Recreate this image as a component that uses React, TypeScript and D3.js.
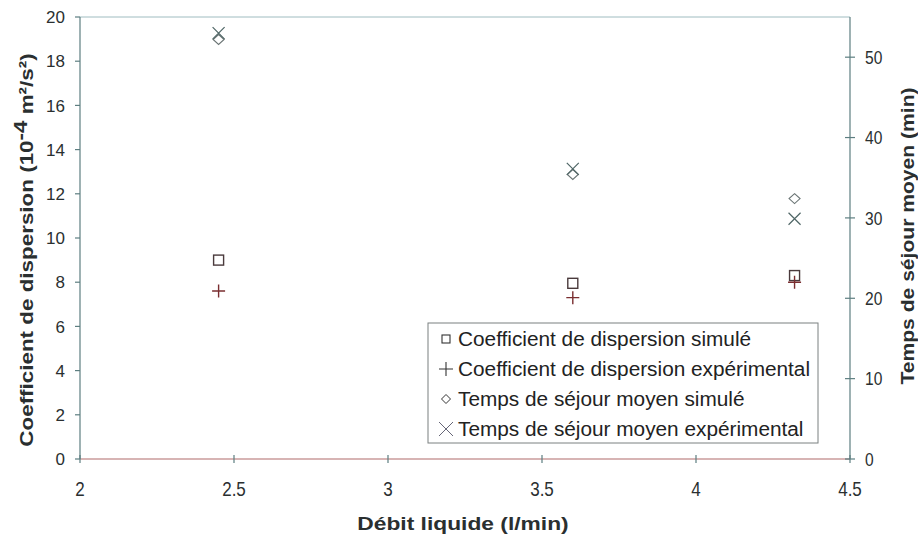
import React from "react";
import * as d3 from "d3";

const debit = [2.45, 3.6, 4.32];
const coefSimule = [9.0, 7.95, 8.3];
const coefExp = [7.6, 7.3, 8.0];
const tempsSimule = [52.2, 35.4, 32.4];
const tempsExp = [53.0, 36.1, 29.9];
const xTicks = [2, 2.5, 3, 3.5, 4, 4.5];
const yLeftTicks = [0, 2, 4, 6, 8, 10, 12, 14, 16, 18, 20];
const yRightTicks = [0, 10, 20, 30, 40, 50];
const legendLabels = [
  "Coefficient de dispersion simulé",
  "Coefficient de dispersion expérimental",
  "Temps de séjour moyen simulé",
  "Temps de séjour moyen expérimental",
];

const W = 918, H = 540;
const L = 80, R = 850, T = 17, B = 459;
const AX = "#5d7e80";
const TXT = "#2a2f30";
const FONT = "Arial, 'Liberation Sans', sans-serif";

function Marker({ type, x, y }: { type: string; x: number; y: number }) {
  if (type === "square")
    return <rect x={x - 5} y={y - 5} width={10} height={10} fill="none" stroke="#4a3a3c" strokeWidth={1.4} />;
  if (type === "plus")
    return (
      <path d={`M${x - 6.5},${y}H${x + 6.5}M${x},${y - 6.5}V${y + 6.5}`} stroke="#7a2e30" strokeWidth={1.4} fill="none" />
    );
  if (type === "diamond")
    return (
      <path d={`M${x},${y - 5}L${x + 5.5},${y}L${x},${y + 5}L${x - 5.5},${y}Z`} stroke="#6a7474" strokeWidth={1.1} fill="none" />
    );
  return (
    <path d={`M${x - 6},${y - 6}L${x + 6},${y + 6}M${x - 6},${y + 6}L${x + 6},${y - 6}`} stroke="#4f6666" strokeWidth={1.2} fill="none" />
  );
}

export default function App() {
  const x = d3.scaleLinear().domain([2, 4.5]).range([L, R]);
  const yL = d3.scaleLinear().domain([0, 20]).range([B, T]);
  const yR = d3.scaleLinear().domain([0, 55]).range([B, T]);

  const series = [
    { type: "square", vals: coefSimule, scale: yL },
    { type: "plus", vals: coefExp, scale: yL },
    { type: "diamond", vals: tempsSimule, scale: yR },
    { type: "cross", vals: tempsExp, scale: yR },
  ];

  return (
    <svg width={W} height={H} style={{ position: "absolute", left: 0, top: 0, background: "#fff" }} fontFamily={FONT}>
      <rect x={0} y={0} width={W} height={H} fill="#fff" />
      {/* frame */}
      <line x1={L} x2={R} y1={T} y2={T} stroke="#9fbcc0" strokeWidth={1} />
      <line x1={L} x2={R} y1={B} y2={B} stroke="#b06a6a" strokeWidth={1.2} />
      <line x1={L} x2={L} y1={T} y2={B} stroke={AX} strokeWidth={1.2} />
      <line x1={R} x2={R} y1={T} y2={B} stroke={AX} strokeWidth={1.2} />

      {/* left axis */}
      {yLeftTicks.map((t) => (
        <g key={"yl" + t}>
          <line x1={L - 5} x2={L} y1={yL(t)} y2={yL(t)} stroke={AX} strokeWidth={1.2} />
          <text x={L - 15} y={yL(t)} dy="0.36em" textAnchor="end" fontSize={17} fill={TXT}>
            {t}
          </text>
        </g>
      ))}
      {/* right axis */}
      {yRightTicks.map((t) => (
        <g key={"yr" + t}>
          <line x1={R - 5} x2={R + 5} y1={yR(t)} y2={yR(t)} stroke={AX} strokeWidth={1.2} />
          <text
            transform={`translate(${R + 15},${yR(t)}) scale(0.82,1)`}
            dy="0.36em"
            textAnchor="start"
            fontSize={19}
            fill={TXT}
          >
            {t}
          </text>
        </g>
      ))}
      {/* bottom axis */}
      {xTicks.map((t) => (
        <g key={"x" + t}>
          <line x1={x(t)} x2={x(t)} y1={B - 4} y2={B + 4} stroke={AX} strokeWidth={1.2} />
          <text
            transform={`translate(${x(t)},${B + 37}) scale(0.85,1)`}
            textAnchor="middle"
            fontSize={20}
            fill={TXT}
          >
            {t}
          </text>
        </g>
      ))}

      {/* axis titles */}
      <text
        transform="translate(463,530) scale(1.2,1)"
        textAnchor="middle"
        fontSize={19}
        fontWeight="bold"
        fill={TXT}
      >
        Débit liquide (l/min)
      </text>
      <text
        transform="translate(33,250) rotate(-90) scale(1.18,1)"
        textAnchor="middle"
        fontSize={19}
        fontWeight="bold"
        fill={TXT}
      >
        Coefficient de dispersion (10
        <tspan dy={-6} fontSize={19}>-4</tspan>
        <tspan dy={6}> m²/s²)</tspan>
      </text>
      <text
        transform="translate(914,236) rotate(-90) scale(1.11,1)"
        textAnchor="middle"
        fontSize={19}
        fontWeight="bold"
        fill={TXT}
      >
        Temps de séjour moyen (min)
      </text>

      {/* data */}
      {series.map((s) =>
        s.vals.map((v, i) => <Marker key={s.type + i} type={s.type} x={x(debit[i])} y={s.scale(v)} />)
      )}

      {/* legend */}
      <rect x={428} y={323} width={390} height={120} fill="#fff" stroke="#7b8080" strokeWidth={1} />
      {legendLabels.map((lab, i) => {
        const cy = 339 + i * 30;
        return (
          <g key={lab}>
            {i === 0 && <rect x={442} y={cy - 4} width={8} height={8} fill="none" stroke="#333" strokeWidth={1.1} />}
            {i === 1 && <path d={`M${439},${cy}H${453}M${446},${cy - 7}V${cy + 7}`} stroke="#333" strokeWidth={1.1} />}
            {i === 2 && <path d={`M446,${cy - 4.5}L450.5,${cy}L446,${cy + 4.5}L441.5,${cy}Z`} fill="none" stroke="#333" strokeWidth={1} />}
            {i === 3 && <path d={`M439,${cy - 7}L453,${cy + 7}M439,${cy + 7}L453,${cy - 7}`} stroke="#667" strokeWidth={1} />}
            <text transform={`translate(458,${cy}) scale(1.04,1)`} dy="0.36em" fontSize={20} fill="#222">
              {lab}
            </text>
          </g>
        );
      })}
    </svg>
  );
}
